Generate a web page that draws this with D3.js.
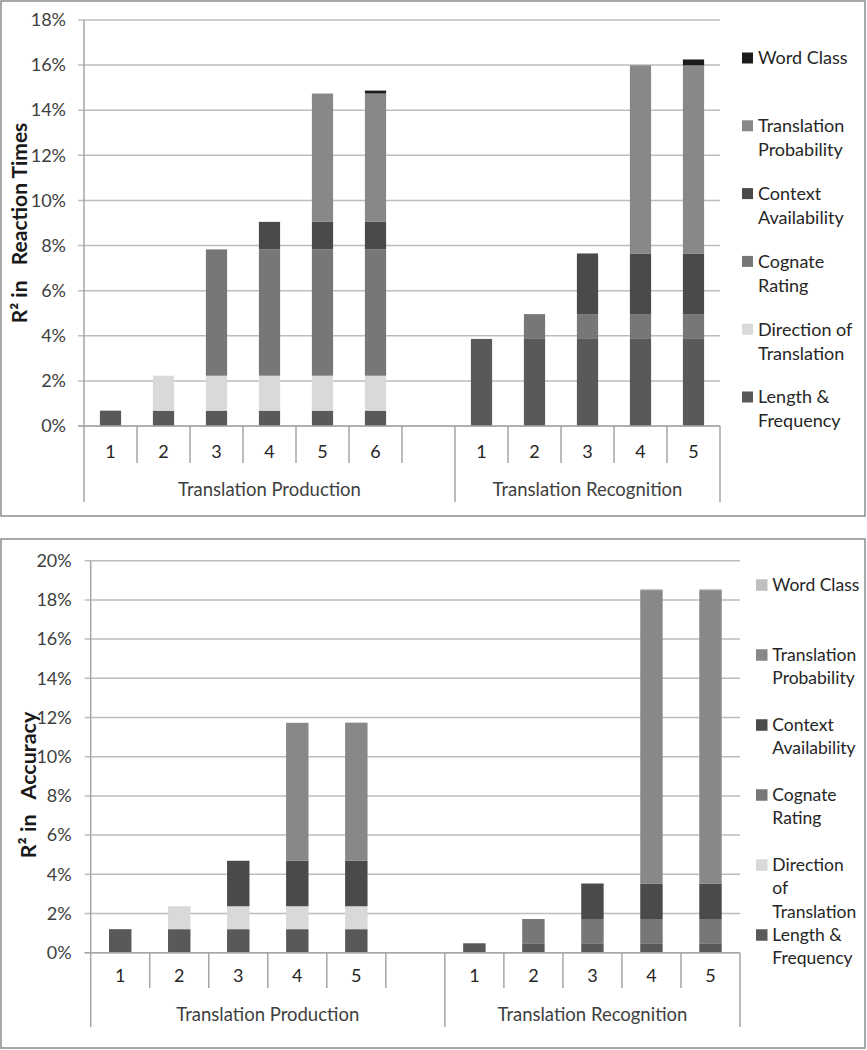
<!DOCTYPE html>
<html><head><meta charset="utf-8">
<script src="https://cdn.jsdelivr.net/npm/d3@7"></script>
<style>body{margin:0;background:#fff} svg{display:block} text{font-family:Lato, "Open Sans", sans-serif}</style>
</head><body><svg id="c" width="867" height="1050"></svg>
<script>
// ---------- DATA ----------
const seriesNames = ["Length & Frequency","Direction of Translation","Cognate Rating","Context Availability","Translation Probability","Word Class"];
const groupNames = ["Translation Production","Translation Recognition"];

// Top chart: R² in Reaction Times (values in %)
const rtProdCats = ["1","2","3","4","5","6"];
const rtRecCats  = ["1","2","3","4","5"];
const rtLengthFreq = [0.68,0.68,0.68,0.68,0.68,0.68, 3.86,3.86,3.86,3.86,3.86];
const rtDirection  = [0,1.55,1.55,1.55,1.55,1.55, 0,0,0,0,0];
const rtCognate    = [0,0,5.6,5.6,5.6,5.6, 0,1.1,1.1,1.1,1.1];
const rtContext    = [0,0,0,1.22,1.22,1.22, 0,0,2.69,2.69,2.69];
const rtTransProb  = [0,0,0,0,5.69,5.69, 0,0,0,8.34,8.34];
const rtWordClass  = [0,0,0,0,0,0.13, 0,0,0,0,0.26];
const rtTicks = [0,2,4,6,8,10,12,14,16,18];
const rtTitle = "R² in   Reaction Times";

// Bottom chart: R² in Accuracy (values in %)
const accProdCats = ["1","2","3","4","5"];
const accRecCats  = ["1","2","3","4","5"];
const accLengthFreq = [1.2,1.2,1.2,1.2,1.2, 0.48,0.48,0.48,0.48,0.48];
const accDirection  = [0,1.17,1.17,1.17,1.17, 0,0,0,0,0];
const accCognate    = [0,0,0,0,0, 0,1.24,1.24,1.24,1.24];
const accContext    = [0,0,2.32,2.32,2.32, 0,0,1.81,1.81,1.81];
const accTransProb  = [0,0,0,7.04,7.04, 0,0,0,14.97,14.97];
const accWordClass  = [0,0,0,0,0.02, 0,0,0,0.05,0.05];
const accTicks = [0,2,4,6,8,10,12,14,16,18,20];
const accTitle = "R² in   Accuracy";

// legend label lines
const rtLegendLines = [["Length &","Frequency"],["Direction of","Translation"],["Cognate","Rating"],["Context","Availability"],["Translation","Probability"],["Word Class"]];
const accLegendLines = [["Length &","Frequency"],["Direction","of","Translation"],["Cognate","Rating"],["Context","Availability"],["Translation","Probability"],["Word Class"]];

// ---------- DRAW ----------
const svg = d3.select("#c");

function drawPanel(o){
  const g = svg.append("g");
  g.append("rect").attr("x",o.box[0]).attr("y",o.box[1]).attr("width",o.box[2]).attr("height",o.box[3])
    .attr("fill","#fff").attr("stroke","#8c8c8c").attr("stroke-width",1.5);

  const keys = o.prodCats.map(c=>"P"+c).concat(["gap"]).concat(o.recCats.map(c=>"R"+c));
  const labels = o.prodCats.concat([""]).concat(o.recCats);
  const dataKeys = o.prodCats.map(c=>"P"+c).concat(o.recCats.map(c=>"R"+c));
  const rows = dataKeys.map((k,i)=>{
    const r = {key:k};
    seriesNames.forEach((s,j)=>{ r[s] = o.series[j][i]; });
    return r;
  });
  const x = d3.scaleBand().domain(keys).range([o.left,o.right]).paddingInner(0).paddingOuter(0);
  const y = d3.scaleLinear().domain([0,o.max]).range([o.y0,o.yTop]);

  // gridlines + tick stubs
  g.append("g").selectAll("line").data(o.ticks).join("line")
    .attr("x1",o.left-6).attr("x2",o.right).attr("y1",d=>y(d)).attr("y2",d=>y(d))
    .attr("stroke","#bdbdbd").attr("stroke-width",1.5);
  // y axis
  const ya = d3.axisLeft(y).tickValues(o.ticks).tickFormat(d=>d+"%").tickSize(0).tickPadding(o.tickPad);
  const yg = g.append("g").attr("transform",`translate(${o.left},0)`).call(ya);
  yg.select(".domain").remove();
  yg.selectAll("text").attr("font-size",o.tickFont).attr("fill","#404040").style("font-family","Lato, sans-serif");
  g.append("line").attr("x1",o.left).attr("x2",o.left).attr("y1",o.yTop).attr("y2",o.y0)
    .attr("stroke","#a6a6a6").attr("stroke-width",1.5);

  // bars
  const stack = d3.stack().keys(seriesNames);
  const stacked = stack(rows);
  const bw = x.bandwidth()*o.barFrac;
  stacked.forEach((layer,j)=>{
    g.append("g").selectAll("rect").data(layer.filter(d=>d[1]-d[0]>0)).join("rect")
      .attr("x",d=>x(d.data.key)+(x.bandwidth()-bw)/2)
      .attr("width",bw)
      .attr("y",d=>y(d[1]))
      .attr("height",d=>y(d[0])-y(d[1]))
      .attr("fill",o.colors[j]);
  });

  // x axis baseline
  g.append("line").attr("x1",o.left-6).attr("x2",o.right).attr("y1",o.y0).attr("y2",o.y0)
    .attr("stroke","#a6a6a6").attr("stroke-width",1.5);
  // category separators
  const bounds = keys.map(k=>x(k)).concat([o.right]);
  const groupBounds = [o.left, x("gap")+x.bandwidth(), o.right];
  g.append("g").selectAll("line").data(bounds).join("line")
    .attr("x1",d=>d).attr("x2",d=>d).attr("y1",o.y0)
    .attr("y2",d=>groupBounds.some(b=>Math.abs(b-d)<0.5)?o.groupBottom:o.catBottom)
    .attr("stroke","#a6a6a6").attr("stroke-width",1.5);
  // category labels
  g.append("g").selectAll("text").data(keys).join("text")
    .attr("x",k=>x(k)+x.bandwidth()/2).attr("y",o.catLabelY).attr("dy","0.35em")
    .attr("text-anchor","middle").attr("font-size",o.catFont).attr("fill","#262626")
    .text((k,i)=>labels[i]);
  // group labels
  g.append("g").selectAll("text").data(groupNames).join("text")
    .attr("x",(d,i)=>(groupBounds[i]+groupBounds[i+1])/2).attr("y",o.groupLabelY).attr("dy","0.35em")
    .attr("text-anchor","middle").attr("font-size",o.groupFont).attr("fill","#404040")
    .text(d=>d);
  // y title
  g.append("text").attr("transform",`translate(${o.titleX},${o.titleY}) rotate(-90)`)
    .attr("text-anchor","middle").attr("dy","0.35em").attr("font-size",o.titleFont)
    .attr("font-weight","bold").attr("fill","#1a1a1a").style("white-space","pre").text(o.title);

  // legend (top to bottom: reversed series order)
  const legOrder = d3.range(seriesNames.length).reverse();
  legOrder.forEach((j,idx)=>{
    const yy = o.legY + idx*o.legStep;
    g.append("rect").attr("x",o.legX).attr("y",yy-o.legSq/2).attr("width",o.legSq).attr("height",o.legSq)
      .attr("fill",o.colors[j]);
    const t = g.append("text").attr("x",o.legTextX).attr("y",yy).attr("dy","0.35em")
      .attr("font-size",o.legFont).attr("fill","#262626");
    o.legendLines[j].forEach((ln,li)=>{
      t.append("tspan").attr("x",o.legTextX).attr("y",yy+li*o.legLine).attr("dy","0.35em").text(ln);
    });
  });
}

drawPanel({
  box:[1,1,864,515],
  prodCats: rtProdCats, recCats: rtRecCats,
  series:[rtLengthFreq,rtDirection,rtCognate,rtContext,rtTransProb,rtWordClass],
  colors:["#595959","#d9d9d9","#777777","#4a4a4a","#888888","#1c1c1c"],
  ticks: rtTicks, max:18, left:84, right:720, y0:426, yTop:20,
  barFrac:0.4, tickFont:18, tickPad:18, catFont:18, groupFont:18.5, titleFont:21,
  catBottom:463, groupBottom:502, catLabelY:452, groupLabelY:490,
  title: rtTitle, titleX:20, titleY:223,
  legendLines: rtLegendLines, legX:742, legSq:11, legTextX:758, legY:58, legStep:67.8, legLine:24, legFont:18
});

drawPanel({
  box:[1,539,864,509],
  prodCats: accProdCats, recCats: accRecCats,
  series:[accLengthFreq,accDirection,accCognate,accContext,accTransProb,accWordClass],
  colors:["#595959","#d9d9d9","#777777","#4a4a4a","#888888","#bfbfbf"],
  ticks: accTicks, max:20, left:90.7, right:740, y0:952.7, yTop:560.7,
  barFrac:0.38, tickFont:18, tickPad:19, catFont:18, groupFont:18.5, titleFont:21.5,
  catBottom:988, groupBottom:1027, catLabelY:976, groupLabelY:1015,
  title: accTitle, titleX:28, titleY:785,
  legendLines: accLegendLines, legX:756, legSq:11.5, legTextX:772.3, legY:585, legStep:70, legLine:23.3, legFont:17.5
});
</script></body></html>
